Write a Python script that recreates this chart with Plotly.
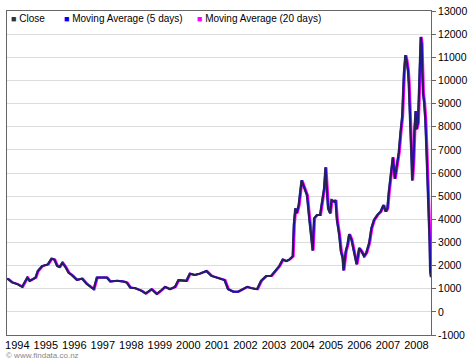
import plotly.graph_objects as go

# Decimal-year positions and closing values
years = [
    1994.00, 1994.17, 1994.35, 1994.52, 1994.70, 1994.78, 1994.99, 1995.07, 1995.22, 1995.42,
    1995.55, 1995.65, 1995.75, 1995.83, 1995.93, 1996.04, 1996.15, 1996.27, 1996.44, 1996.62,
    1996.79, 1997.03, 1997.14, 1997.32, 1997.49, 1997.61, 1997.84, 1998.07, 1998.19, 1998.31,
    1998.48, 1998.71, 1998.85, 1999.06, 1999.24, 1999.41, 1999.53, 1999.70, 1999.88, 2000.00,
    2000.17, 2000.28, 2000.40, 2000.57, 2000.75, 2000.98, 2001.16, 2001.39, 2001.62, 2001.74,
    2001.92, 2002.09, 2002.26, 2002.41, 2002.55, 2002.76, 2002.90, 2003.08, 2003.25, 2003.39,
    2003.54, 2003.66, 2003.78, 2003.89, 2004.01, 2004.05, 2004.10, 2004.15, 2004.22, 2004.32,
    2004.39, 2004.44, 2004.51, 2004.59, 2004.65, 2004.71, 2004.76, 2004.86, 2004.97, 2005.06,
    2005.11, 2005.16, 2005.21, 2005.25, 2005.32, 2005.37, 2005.46, 2005.51, 2005.56, 2005.64,
    2005.70, 2005.76, 2005.79, 2005.87, 2005.93, 2005.99, 2006.07, 2006.16, 2006.25, 2006.34,
    2006.42, 2006.51, 2006.59, 2006.69, 2006.77, 2006.86, 2006.98, 2007.09, 2007.19, 2007.27,
    2007.33, 2007.38, 2007.47, 2007.52, 2007.59, 2007.68, 2007.73, 2007.79, 2007.85, 2007.91,
    2007.96, 2008.00, 2008.05, 2008.08, 2008.12, 2008.14, 2008.18, 2008.20, 2008.24, 2008.28,
    2008.32, 2008.35, 2008.40, 2008.43, 2008.47, 2008.50, 2008.53, 2008.56, 2008.58, 2008.62,
    2008.66, 2008.70, 2008.73, 2008.78, 2008.81, 2008.83, 2008.86,
]
close = [
    1440, 1270, 1200, 1080, 1480, 1340, 1480, 1765, 1980, 2050,
    2300, 2260, 1980, 1935, 2120, 1935, 1690, 1580, 1380, 1436,
    1200, 980, 1480, 1480, 1480, 1310, 1340, 1310, 1265, 1050,
    1025, 910, 795, 980, 770, 940, 1080, 980, 1080, 1370,
    1370, 1340, 1650, 1590, 1650, 1765, 1550, 1450, 1370, 980,
    870, 870, 980, 1080, 1025, 980, 1340, 1550, 1550, 1765,
    1980, 2260, 2190, 2260, 2400, 3760, 4470, 4260, 4615, 5680,
    5470, 5330, 5040, 4040, 3330, 2650, 4040, 4190, 4190, 4900,
    5330, 6250, 5330, 4470, 4260, 4830, 4760, 4830, 3970, 3330,
    2620, 2330, 1790, 2620, 2900, 3360, 3120, 2620, 2050, 2760,
    2620, 2400, 2550, 2970, 3620, 3970, 4190, 4330, 4615, 4330,
    4470, 5180, 6040, 6680, 5750, 6470, 6890, 7750, 8460, 10310,
    11090, 10880, 10450, 9880, 8740, 7750, 6470, 5680, 6470, 7890,
    8680, 7890, 8170, 9170, 11030, 11880, 11590, 10310, 9450, 9030,
    8320, 7030, 6040, 4760, 3050, 1770, 1500,
]
year_ticks = list(range(1994, 2009))
y_ticks = list(range(-1000, 14000, 1000))

# moving averages trail the close slightly (lag in years)
MA5_LAG = 0.012
MA20_LAG = 0.045

series_names = ["Close", "Moving Average (5 days)", "Moving Average (20 days)"]
series_colors = ["#333333", "#0000ff", "#ff00ff"]

FONT = "Liberation Sans, Arial, sans-serif"

fig = go.Figure()
fig.add_trace(go.Scatter(x=[y + MA20_LAG for y in years], y=close, mode="lines",
                         name=series_names[2], line=dict(color=series_colors[2], width=2),
                         showlegend=False))
fig.add_trace(go.Scatter(x=[y + MA5_LAG for y in years], y=close, mode="lines",
                         name=series_names[1], line=dict(color=series_colors[1], width=2),
                         showlegend=False))
fig.add_trace(go.Scatter(x=years, y=close, mode="lines",
                         name=series_names[0], line=dict(color="rgba(40,40,60,0.9)", width=1.8),
                         showlegend=False))

annotations = []
legend_shift = [2, 55, 188]
for name, col, sh in zip(series_names, series_colors, legend_shift):
    annotations.append(dict(
        xref="paper", yref="paper", x=0, y=1, xanchor="left", yanchor="top",
        xshift=sh, yshift=0, showarrow=False,
        text=f"<span style='color:{col};font-size:9px'>■</span> {name}",
        font=dict(family=FONT, size=10, color="#000000"),
    ))
annotations.append(dict(
    xref="paper", yref="paper", x=0, y=0, xanchor="left", yanchor="top",
    xshift=-3, yshift=-14, showarrow=False,
    text="© www.findata.co.nz",
    font=dict(family=FONT, size=8, color="#888888"),
))

fig.update_layout(
    width=476, height=360,
    margin=dict(l=5, r=45, t=7, b=25),
    paper_bgcolor="white", plot_bgcolor="white",
    font=dict(family=FONT, size=11, color="#000000"),
    showlegend=False,
    annotations=annotations,
    xaxis=dict(
        range=[1994.0, 2008.87],
        tickvals=[y + 0.36 for y in year_ticks],
        ticktext=[str(y) for y in year_ticks],
        showgrid=False, zeroline=False,
        showline=True, linecolor="#666666", linewidth=1, mirror=True,
        ticks="", ticklen=0, tickfont=dict(size=11, family=FONT, color="#000000"),
    ),
    yaxis=dict(
        range=[-1000, 13000], side="right",
        tickvals=y_ticks, ticktext=[str(v) for v in y_ticks],
        showgrid=True, gridcolor="#dcdcdc", gridwidth=1, zeroline=False,
        showline=True, linecolor="#666666", linewidth=1, mirror=True,
        ticks="outside", ticklen=4, tickcolor="#666666",
        tickfont=dict(size=10.5, family=FONT, color="#000000"),
    ),
)

fig.write_html("out.html", config={"displayModeBar": False},
               post_script="document.body.style.margin='0';")
